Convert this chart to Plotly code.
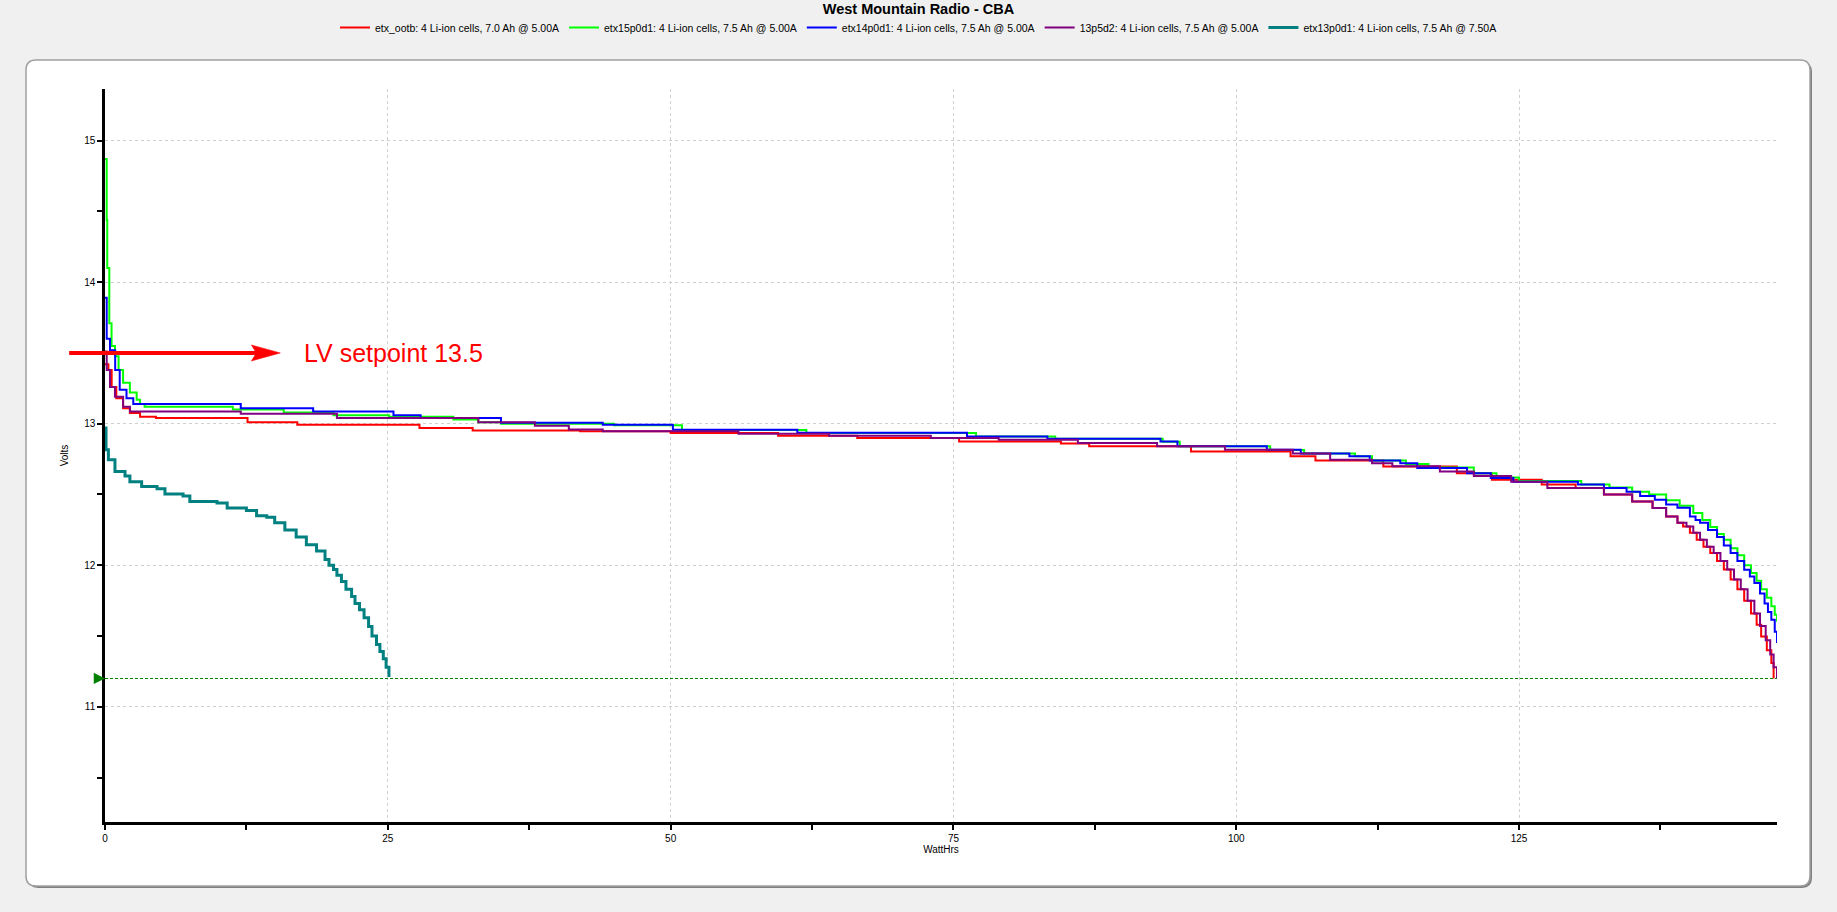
import plotly.graph_objects as go

# ---------------- data ----------------
series_names = [
    "etx_ootb: 4 Li-ion cells, 7.0 Ah @ 5.00A",
    "etx15p0d1: 4 Li-ion cells, 7.5 Ah @ 5.00A",
    "etx14p0d1: 4 Li-ion cells, 7.5 Ah @ 5.00A",
    "13p5d2: 4 Li-ion cells, 7.5 Ah @ 5.00A",
    "etx13p0d1: 4 Li-ion cells, 7.5 Ah @ 7.50A",
]

etx_ootb_wh = [0, 0.3, 0.59, 1.0, 1.6, 2.2, 3.1, 4.5, 12.6, 17, 27.8, 32.5, 42, 50, 59.5, 66.5,
               75.5, 84.5, 87, 96, 104.8, 107, 113, 119.5, 122.6, 127, 130, 132.5, 135, 136.8,
               138, 139, 139.5, 140.1, 140.7, 141.3, 141.9, 142.5, 143.1, 143.7, 144.3, 144.9,
               145.5, 146, 146.4, 146.9, 147.3, 147.5]
etx_ootb_v = [13.42, 13.38, 13.26, 13.18, 13.11, 13.076, 13.05, 13.04, 13.01, 12.993, 12.97, 12.953,
              12.946, 12.934, 12.915, 12.9, 12.875, 12.86, 12.84, 12.804, 12.77, 12.74, 12.698,
              12.65, 12.604, 12.57, 12.546, 12.5, 12.45, 12.404, 12.345, 12.3, 12.274, 12.23,
              12.18, 12.13, 12.086, 12.03, 11.97, 11.9, 11.83, 11.75, 11.66, 11.58, 11.497, 11.4,
              11.31, 11.2]

etx15p0d1_wh = [0, 0.15, 0.2, 0.38, 0.58, 0.88, 1.2, 1.6, 2.2, 2.8, 3.1, 3.5, 11.3, 15.8, 20.2,
                25.1, 30.8, 33, 35, 45, 51, 62, 77, 84, 93.5, 95, 103, 106, 110.5, 112, 115, 117,
                121, 123, 125, 130.5, 133, 135, 136.5, 138, 139.2, 140.4, 141.2, 141.9, 142.5,
                143.1, 143.7, 144.3, 144.9, 145.5, 146, 146.4, 146.9, 147.3, 147.6, 147.8]
etx15p0d1_v = [14.87, 14.44, 14.1, 13.71, 13.55, 13.476, 13.38, 13.29, 13.22, 13.17, 13.14, 13.12,
               13.1, 13.08, 13.06, 13.05, 13.03, 13.01, 13.0, 12.99, 12.955, 12.935, 12.91, 12.893,
               12.873, 12.84, 12.815, 12.79, 12.77, 12.74, 12.715, 12.69, 12.65, 12.62, 12.595,
               12.57, 12.55, 12.52, 12.5, 12.46, 12.42, 12.37, 12.32, 12.27, 12.22, 12.18, 12.12,
               12.07, 12.0, 11.945, 11.89, 11.83, 11.77, 11.71, 11.65, 11.6]

etx14p0d1_wh = [0, 0.15, 0.44, 0.9, 1.3, 1.9, 2.5, 12.0, 18.4, 25.5, 27.9, 35.0, 44, 50.2, 61.2,
                76.2, 83.3, 93.3, 94.8, 102.7, 105.7, 110, 111.8, 114.5, 116, 120.4, 122.5, 124.5,
                130.2, 132.5, 134.5, 135.7, 137, 138, 139, 140.1, 140.6, 141, 141.7, 142.5, 143.1,
                143.7, 144.3, 144.9, 145.4, 145.8, 146.3, 146.7, 147.0, 147.3, 147.6, 147.8]
etx14p0d1_v = [13.89, 13.6, 13.52, 13.38, 13.24, 13.18, 13.14, 13.11, 13.087, 13.06, 13.04, 13.007,
               12.993, 12.958, 12.936, 12.91, 12.894, 12.875, 12.84, 12.816, 12.79, 12.77, 12.74,
               12.72, 12.687, 12.65, 12.616, 12.59, 12.57, 12.546, 12.52, 12.49, 12.463, 12.43,
               12.406, 12.345, 12.32, 12.30, 12.25, 12.20, 12.14, 12.086, 12.03, 11.968, 11.92,
               11.874, 11.8, 11.73, 11.67, 11.615, 11.53, 11.45]

p13p5d2_wh = [0, 0.15, 0.44, 0.88, 1.6, 2.2, 12, 20.5, 33, 38, 41, 44, 56, 64, 73, 79, 86, 93, 99,
              105, 108.3, 112, 113.8, 118, 121, 124.3, 127.5, 132.5, 135, 136.8, 138, 139, 139.8,
              140.4, 141, 141.6, 142.2, 142.8, 143.4, 144, 144.6, 145.2, 145.8, 146.3, 146.8,
              147.2, 147.5, 147.8]
p13p5d2_v = [13.51, 13.38, 13.26, 13.19, 13.12, 13.087, 13.07, 13.04, 13.01, 12.985, 12.96, 12.946,
             12.93, 12.915, 12.9, 12.887, 12.864, 12.84, 12.816, 12.79, 12.745, 12.72, 12.7,
             12.663, 12.63, 12.59, 12.546, 12.5, 12.45, 12.404, 12.345, 12.3, 12.274, 12.23, 12.18,
             12.13, 12.086, 12.03, 11.97, 11.9, 11.83, 11.75, 11.66, 11.57, 11.47, 11.37, 11.28,
             11.2]

etx13p0d1_wh = [0, 0.09, 0.3, 0.88, 1.77, 2.2, 3.24, 4.6, 5.3, 6.9, 7.5, 9.9, 10.8, 12.5, 13.4,
                14.3, 15, 15.9, 16.9, 17.8, 18.7, 19.45, 19.8, 20.2, 20.5, 20.9, 21.3, 21.8, 22.1,
                22.5, 22.9, 23.3, 23.6, 24.0, 24.3, 24.6, 24.85, 25.1]
etx13p0d1_v = [12.97, 12.816, 12.746, 12.663, 12.63, 12.59, 12.557, 12.54, 12.503, 12.49, 12.45,
               12.44, 12.404, 12.387, 12.35, 12.34, 12.30, 12.25, 12.2, 12.145, 12.1, 12.04, 12.0,
               11.97, 11.93, 11.885, 11.83, 11.78, 11.73, 11.686, 11.63, 11.568, 11.5, 11.44,
               11.39, 11.34, 11.28, 11.21]

series_wh = [etx_ootb_wh, etx15p0d1_wh, etx14p0d1_wh, p13p5d2_wh, etx13p0d1_wh]
series_v = [etx_ootb_v, etx15p0d1_v, etx14p0d1_v, p13p5d2_v, etx13p0d1_v]

cutoff_volts = 11.2
lv_setpoint = 13.5
lv_label = "LV setpoint 13.5"
lv_arrow_from_wh = -3.3
lv_arrow_to_wh = 15.5
lv_label_wh = 17.4

x_range = [0, 147.8]
y_range = [10.186, 15.365]
x_tick_vals = [0, 25, 50, 75, 100, 125]
x_tick_text = ["0", "25", "50", "75", "100", "125"]
y_tick_vals = [11, 12, 13, 14, 15]
y_tick_text = ["11", "12", "13", "14", "15"]

# ---------------- style ----------------
colors = ["#ff0000", "#00ff00", "#0000ff", "#800080", "#008080"]
widths = [2, 2, 2, 2, 3]
FONT = "Arial, 'Liberation Sans', sans-serif"

W, H = 1837, 912
ML, MR, MT, MB = 105, W - 1777, 89, H - 822

fig = go.Figure()
for name, xs, ys, c, w in zip(series_names, series_wh, series_v, colors, widths):
    fig.add_trace(go.Scatter(x=xs, y=ys, name=name, mode="lines",
                             line=dict(color=c, width=w, shape="hv")))

# ---------- frame (rounded rectangle with shadow) ----------
pw = W - ML - MR
ph = H - MT - MB


def px(xp):
    return (xp - ML) / pw


def py(yp):
    return (H - MB - yp) / ph


def rounded_path(x0, y0, x1, y1, r):
    pts = [
        ("M", [(x0 + r, y0)]),
        ("L", [(x1 - r, y0)]),
        ("Q", [(x1, y0), (x1, y0 + r)]),
        ("L", [(x1, y1 - r)]),
        ("Q", [(x1, y1), (x1 - r, y1)]),
        ("L", [(x0 + r, y1)]),
        ("Q", [(x0, y1), (x0, y1 - r)]),
        ("L", [(x0, y0 + r)]),
        ("Q", [(x0, y0), (x0 + r, y0)]),
    ]
    s = ""
    for cmd, ps in pts:
        s += cmd + " " + " ".join(f"{px(a):.5f},{py(b):.5f}" for a, b in ps) + " "
    return s + "Z"


fig.add_shape(type="path", xref="paper", yref="paper", layer="below",
              path=rounded_path(28, 62, 1812, 888, 10),
              fillcolor="#808080", line=dict(width=0))
fig.add_shape(type="path", xref="paper", yref="paper", layer="below",
              path=rounded_path(26, 60, 1810, 886, 10),
              fillcolor="white", line=dict(color="#a0a0a0", width=1.5))

# cutoff line
fig.add_shape(type="line", xref="x", yref="y", x0=x_range[0], x1=x_range[1],
              y0=cutoff_volts, y1=cutoff_volts, layer="above",
              line=dict(color="#008000", width=1, dash="3px,2px"))
fig.add_annotation(x=x_range[0], y=cutoff_volts, xref="x", yref="y", text="",
                   showarrow=True, ax=-10, ay=0, arrowhead=2, arrowsize=0.9,
                   arrowwidth=2.5, arrowcolor="#008000")

# LV setpoint arrow: shaft (annotation) + swept arrow head (pixel-sized shape)
fig.add_annotation(x=lv_arrow_to_wh, y=lv_setpoint, xref="x", yref="y",
                   ax=lv_arrow_from_wh, ay=lv_setpoint, axref="x", ayref="y",
                   text="", showarrow=True, arrowhead=0, standoff=22,
                   arrowwidth=4, arrowcolor="#ff0000")
fig.add_shape(type="path", xref="x", yref="y", xsizemode="pixel", ysizemode="pixel",
              xanchor=lv_arrow_to_wh, yanchor=lv_setpoint, layer="above",
              path="M 0,0 L -29,8 L -24,0 L -29,-8 Z",
              fillcolor="#ff0000", line=dict(color="#ff0000", width=0.5))
fig.add_annotation(x=lv_label_wh, y=lv_setpoint, xref="x", yref="y", text=lv_label,
                   showarrow=False, xanchor="left", yanchor="middle",
                   font=dict(family=FONT, size=25, color="#ff0000"))

grid_style = dict(showgrid=True, gridcolor="#cfcfcf", griddash="3px,3px", gridwidth=1)

fig.update_layout(
    width=W, height=H,
    margin=dict(l=ML, r=MR, t=MT, b=MB, autoexpand=False),
    paper_bgcolor="#f0f0f0",
    plot_bgcolor="rgba(0,0,0,0)",
    font=dict(family=FONT, size=10, color="black"),
    title=dict(text="<b>West Mountain Radio - CBA</b>", x=0.5, xref="paper",
               xanchor="center", y=1 - 8.5 / H, yref="container", yanchor="middle",
               font=dict(family=FONT, size=14.5, color="black")),
    showlegend=True,
    legend=dict(orientation="h", x=0.5, xref="container", xanchor="center",
                y=1 - 13 / H, yref="container", yanchor="top",
                font=dict(family=FONT, size=10.5, color="black"),
                bgcolor="rgba(0,0,0,0)", itemwidth=30, tracegroupgap=0),
    xaxis=dict(range=x_range, tickvals=x_tick_vals, ticktext=x_tick_text,
               showline=True, linecolor="black", linewidth=2.5, ticks="outside",
               ticklen=5, tickwidth=1.5, tickcolor="black", zeroline=False,
               minor=dict(dtick=12.5, tick0=0, ticks="outside", ticklen=5,
                          tickwidth=1.5, tickcolor="black", showgrid=False),
               title=dict(text="WattHrs", standoff=3, font=dict(size=10)),
               tickfont=dict(size=10), **grid_style),
    yaxis=dict(range=y_range, tickvals=y_tick_vals, ticktext=y_tick_text,
               showline=True, linecolor="black", linewidth=2.5, ticks="outside",
               ticklen=5, tickwidth=1.5, tickcolor="black", zeroline=False,
               minor=dict(dtick=0.5, tick0=0, ticks="outside", ticklen=5,
                          tickwidth=1.5, tickcolor="black", showgrid=False),
               title=dict(text="Volts", standoff=14, font=dict(size=10)),
               tickfont=dict(size=10), **grid_style),
)

# center the title on the page (paper x that maps to page center)
fig.update_layout(title_x=px(W / 2))

fig.write_html("out.html", config={"displayModeBar": False},
               post_script="document.body.style.margin='0px';")
